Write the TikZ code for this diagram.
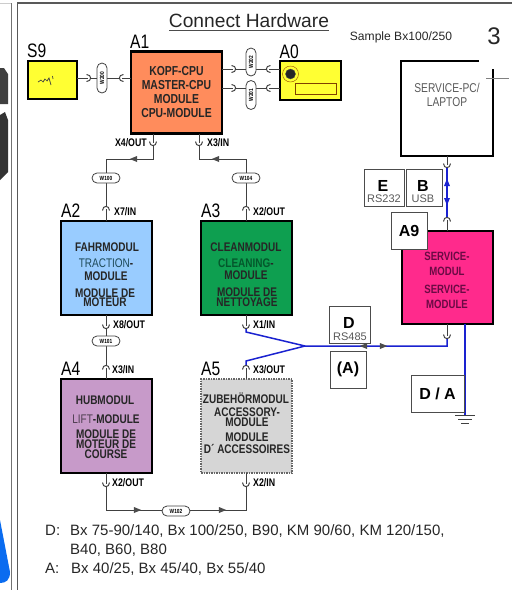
\documentclass[tikz,border=0pt]{standalone}
\usepackage{fontspec}
\setmainfont{Liberation Sans}
\newfontfamily\narrowfont[FakeStretch=0.8]{Liberation Sans}
\usetikzlibrary{shapes, arrows, positioning}

\definecolor{cpucol}{HTML}{FF8C5C}
\definecolor{tractioncol}{HTML}{99CCFF}
\definecolor{cleancol}{HTML}{0E9F50}
\definecolor{liftcol}{HTML}{C79AC9}
\definecolor{zubcol}{HTML}{D6D6D6}
\definecolor{servicecol}{HTML}{FF2A8C}
\definecolor{signcol}{HTML}{FFFF33}
\definecolor{buscol}{HTML}{1A22D0}
\definecolor{servicetext}{HTML}{6A0A44}
\definecolor{tractiontext}{HTML}{1E4A58}
\definecolor{cleantext}{HTML}{04582C}
\definecolor{lifttext}{HTML}{4E3E50}
\definecolor{edgeblue}{HTML}{0A6CF0}

\tikzset{
	module/.style={draw, line width=2.6pt, minimum width=91pt, minimum height=94pt, outer sep=0pt},
	tag/.style={draw=black!70, fill=white, line width=.8pt, inner sep=0pt, outer sep=0pt, align=center},
	title/.style={font=\narrowfont\fontsize{19.5}{19.5}\selectfont, inner sep=0pt},
	port/.style={font=\narrowfont\bfseries\fontsize{11}{11}\selectfont, inner sep=0pt},
	modtext/.style={font=\narrowfont\bfseries\fontsize{12.5}{9.5}\selectfont, align=center, inner sep=0pt, text=black!85},
	wire/.style={draw=black!75, line width=1pt},
	buswire/.style={draw=buscol, line width=1.5pt},
	cable/.style={draw=black!75, fill=white, line width=.8pt, rounded corners=5pt, inner sep=0pt,
		font=\narrowfont\bfseries\fontsize{6}{6}\selectfont},
	midtip/.style={fill=black!70, inner sep=0pt, isosceles triangle, isosceles triangle apex angle=45, minimum size=6pt},
	big/.style={font=\fontsize{16}{16}\selectfont\bfseries, inner sep=0pt},
	small/.style={font=\fontsize{11}{11}\selectfont, text=black!65, inner sep=0pt},
	note/.style={font=\fontsize{15}{15}\selectfont, inner sep=0pt, anchor=base west, text=black!85}
}
\newcommand{\plug}[2]{\draw[wire, shift={(#1)}, rotate=#2] (-3.5,-1.5) .. controls (-3.5,4) and (3.5,4) .. (3.5,-1.5);}

\begin{document}
\begin{tikzpicture}[x=1pt, y=-1pt, node distance=140pt, on grid]
	\useasboundingbox (0,0) rectangle (512,590);
	% screen frame
	\fill[black!75] (0,68) -- (4,68) -- (8,74) -- (8,104) -- (0,104) -- cycle;
	\fill[black!80] (0,115) -- (5,112) -- (8,120) -- (8,172) -- (0,180) -- cycle;
	\fill[edgeblue] (0,520) -- (10,572) .. controls (10,580) and (6,583) .. (0,583) -- cycle;
	\draw[black!20, line width=.8pt] (0,3) -- (11.5,3);
	\draw[black!55, line width=1.4pt] (11.5,3) -- (11.5,590);
	\draw[black!65, line width=1.4pt] (17.5,590) -- (17.5,3) -- (512,3);

	% modules
	\node[module, fill=tractioncol] (a2) at (106.5,268) {};
	\node[module, fill=cleancol, right of=a2] (a3) {};
	\node[module, fill=liftcol, below=158pt of a2] (a4) {};
	\node[module, fill=zubcol, draw=black!60, dash pattern=on 1.5pt off 1pt, below=158pt of a3] (a5) {};
	\node[module, fill=cpucol, minimum height=82pt] (a1) at (176.5,92.5) {};
	\node[module, fill=servicecol, minimum height=93pt] (a9) at (447.5,277.5) {};
	\node[draw, fill=signcol, line width=2pt, minimum width=49pt, minimum height=38pt, outer sep=0pt] (s9) at (52.5,80) {};
	\node[draw, fill=signcol, line width=2pt, minimum width=61pt, minimum height=39pt, outer sep=0pt] (a0) at (310,80) {};
	\node[draw=black!70, fill=black!85, circle, minimum size=10pt, inner sep=0pt] (led) at (290.5,74) {};
	\draw[orange!60!black] (led) circle (8);
	\node[draw=orange!50!black, fill=signcol, minimum width=41pt, minimum height=11pt, inner sep=0pt] (lcd) at (315.5,88.5) {};
	\draw[black!75, line width=.7pt] (38,82) -- (41,80) -- (43,82) -- (45,79) -- (47,81) -- (49,78) -- (51,85);
	\draw[black!75, line width=.7pt] (52.5,76) -- (53,79);

	% laptop
	\coordinate (ltl) at (401,61);
	\coordinate (ltr) at (479,61);
	\coordinate (lrt) at (493,69);
	\coordinate (lrb) at (493,156);
	\draw[black, line width=2.2pt] (ltr) -- (ltl) |- (lrb) -- (lrt);
	\coordinate (cl) at (486,78);
	\coordinate (cr) at (509,78);
	\draw[black!50, line width=.8pt] (cl) -- (cr);
	\node[font=\narrowfont\fontsize{12.8}{14}\selectfont, align=center, text=black!65] (lt) at (447,95) {SERVICE-PC/\\LAPTOP};

	% module texts
	\node[modtext, font=\narrowfont\bfseries\fontsize{13}{14}\selectfont] (t1) at (176.5,92) {KOPF-CPU\\MASTER-CPU\\MODULE\\CPU-MODULE};
	\node[modtext] (t2a) at (107,247) {FAHRMODUL};
	\node[modtext, font=\narrowfont\fontsize{12.5}{13}\selectfont] (t2b) at (106,269.5) {\textcolor{tractiontext}{TRACTION}\textbf{-}\\\textbf{MODULE}};
	\node[modtext] (t2c) at (105,297.5) {MODULE DE\\MOTEUR};
	\node[modtext] (t3a) at (246,247) {CLEANMODUL};
	\node[modtext, font=\narrowfont\bfseries\fontsize{12.5}{12}\selectfont] (t3b) at (246,269) {\textcolor{cleantext}{CLEANING}-\\MODULE};
	\node[modtext] (t3c) at (247,297) {MODULE DE\\NETTOYAGE};
	\node[modtext] (t4a) at (105,400) {HUBMODUL};
	\node[modtext] (t4b) at (106,419) {\textcolor{lifttext}{\mdseries LIFT}-MODULE};
	\node[modtext, font=\narrowfont\bfseries\fontsize{12.5}{10}\selectfont] (t4c) at (106,444) {MODULE DE\\MOTEUR DE\\COURSE};
	\node[modtext] (t5a) at (246,398) {ZUBEHÖRMODUL};
	\node[modtext, font=\narrowfont\bfseries\fontsize{12.5}{10}\selectfont] (t5b) at (247,417) {ACCESSORY-\\MODULE};
	\node[modtext, font=\narrowfont\bfseries\fontsize{12.5}{12}\selectfont] (t5c) at (247,443) {MODULE\\D´ ACCESSOIRES};
	\node[modtext, text=servicetext, font=\narrowfont\bfseries\fontsize{12}{15}\selectfont] (t9a) at (447,264) {SERVICE-\\MODUL};
	\node[modtext, text=servicetext, font=\narrowfont\bfseries\fontsize{12}{15}\selectfont] (t9b) at (447,297) {SERVICE-\\MODULE};

	% titles
	\node[title, above right=3pt and -1pt of a1.north west, anchor=south west] (la1) {A1};
	\node[title, above right=3pt and -1pt of s9.north west, anchor=south west] (ls9) {S9};
	\node[title, above right=2pt and 0pt of a0.north west, anchor=south west] (la0) {A0};
	\node[title, above right=3pt and 0pt of a2.north west, anchor=south west] (la2) {A2};
	\node[title, above right=3pt and 0pt of a3.north west, anchor=south west] (la3) {A3};
	\node[title, above right=3pt and 0pt of a4.north west, anchor=south west] (la4) {A4};
	\node[title, above right=3pt and 0pt of a5.north west, anchor=south west] (la5) {A5};

	% ports
	\coordinate (x4) at (153,143);
	\coordinate (x3) at (199,143);
	\coordinate (x7) at (106,209);
	\coordinate (x2) at (246,209);
	\coordinate (x8) at (106,326);
	\coordinate (x1) at (246,326);
	\coordinate (x3b) at (106,368);
	\coordinate (x3c) at (246,368);
	\coordinate (x2b) at (106,484);
	\coordinate (x2c) at (246,484);
	\coordinate (ws) at (88,78);
	\coordinate (wa) at (122,78);
	\coordinate (wg) at (233,69);
	\coordinate (wh) at (233,88);
	\coordinate (wb) at (269,69);
	\coordinate (wc) at (269,88);
	\coordinate (wd) at (447,165);
	\coordinate (we) at (447,220);
	\coordinate (wf) at (447,336);
	\plug{x4}{0} \plug{x3}{0} \plug{x8}{0} \plug{x1}{0} \plug{x2b}{0} \plug{x2c}{0}
	\plug{x7}{180} \plug{x2}{180} \plug{x3b}{180} \plug{x3c}{180}
	\plug{ws}{90} \plug{wa}{-90} \plug{wg}{90} \plug{wh}{90} \plug{wb}{-90} \plug{wc}{-90}
	\plug{wd}{0} \plug{we}{180} \plug{wf}{0}
	\node[port, anchor=east] (lx4) at (147,143) {X4/OUT};
	\node[port, anchor=west] (lx3) at (207,143) {X3/IN};
	\node[port, anchor=west] (lx7) at (114,212) {X7/IN};
	\node[port, anchor=west] (lx2) at (253,212) {X2/OUT};
	\node[port, anchor=west] (lx8) at (113,325) {X8/OUT};
	\node[port, anchor=west] (lx1) at (253,325) {X1/IN};
	\node[port, anchor=west] (lx3b) at (112,370) {X3/IN};
	\node[port, anchor=west] (lx3c) at (253,370) {X3/OUT};
	\node[port, anchor=west] (lx2b) at (112,483) {X2/OUT};
	\node[port, anchor=west] (lx2c) at (253,483) {X2/IN};

	% cables
	\draw[wire] (s9.east |- ws) -- (ws);
	\draw[wire] (a1.west |- wa) -- (wa);
	\draw[wire] (a1.east |- wg) -- (wg);
	\draw[wire] (a1.east |- wh) -- (wh);
	\draw[wire] (a0.west |- wb) -- (wb);
	\draw[wire] (a0.west |- wc) -- (wc);
	\draw[wire] ([xshift=3pt]ws) -- ([xshift=-3pt]wa);
	\draw[wire] ([xshift=3pt]wg) -- ([xshift=-3pt]wb);
	\draw[wire] ([xshift=3pt]wh) -- ([xshift=-3pt]wc);
	\draw[wire] (a1.south -| x4) -- (x4);
	\draw[wire] (a1.south -| x3) -- (x3);
	\draw[wire] ([yshift=-3pt]x4) |- (x7 |- 0,159) -- ([yshift=3pt]x7);
	\draw[wire] ([yshift=-3pt]x3) |- (x2 |- 0,159) -- ([yshift=3pt]x2);
	\draw[wire] (a2.north -| x7) -- (x7);
	\draw[wire] (a3.north -| x2) -- (x2);
	\draw[wire] (a2.south -| x8) -- (x8);
	\draw[wire] (a3.south -| x1) -- (x1);
	\draw[wire] ([yshift=-3pt]x8) -- ([yshift=3pt]x3b);
	\draw[wire] (a4.north -| x3b) -- (x3b);
	\draw[wire] (a5.north -| x3c) -- (x3c);
	\draw[wire] (a4.south -| x2b) -- (x2b);
	\draw[wire] (a5.south -| x2c) -- (x2c);
	\coordinate (low1) at (106,510);
	\coordinate (low2) at (246,510);
	\draw[wire] ([yshift=-3pt]x2b) -- (low1) -- (low2) -- ([yshift=-3pt]x2c);
	\node[midtip, rotate=180] (ar3) at (135,159) {};
	\node[midtip, rotate=180] (ar4) at (217,159) {};
	\node[midtip] (ar5) at (136,510) {};
	\node[midtip] (ar6) at (221,510) {};
	\node[cable, minimum width=10pt, minimum height=30pt] (w200) at (102,78) {\rotatebox{90}{W200}};
	\node[cable, minimum width=10pt, minimum height=28pt] (w202) at (251,62) {\rotatebox{90}{W202}};
	\node[cable, minimum width=10pt, minimum height=29pt] (w201) at (251,95) {\rotatebox{90}{W201}};
	\node[cable, minimum width=28pt, minimum height=10pt] (w100) at (106,178) {W100};
	\node[cable, minimum width=28pt, minimum height=10pt] (w104) at (246,178) {W104};
	\node[cable, minimum width=28pt, minimum height=10pt] (w101) at (106,341) {W101};
	\node[cable, minimum width=28pt, minimum height=10pt] (w102) at (176,511) {W102};

	% service line
	\coordinate (join) at (305,346);
	\coordinate (hook) at (447,346);
	\coordinate (gnd) at (465,415);
	\draw[buswire] ([yshift=-3pt]x1) -- ++(0,3) -- (join) -- (hook) -- ([yshift=-3pt]wf);
	\draw[buswire] ([yshift=3pt]x3c) -- ++(0,-4) -- (join);
	\draw[wire] (a9.south -| wf) -- (wf);
	\draw[wire] (lrb -| wd) -- (wd);
	\draw[wire] (a9.north -| we) -- (we);
	\draw[buswire] ([yshift=3pt]we) -- ([yshift=-3pt]wd);
	\draw[buswire] (a9.south -| gnd) -- (gnd);
	\draw[black!75, line width=1pt] ([xshift=-10pt]gnd) -- ([xshift=10pt]gnd);
	\draw[black!75, line width=1pt] ([xshift=-7pt,yshift=-4pt]gnd) -- ([xshift=7pt,yshift=-4pt]gnd);
	\draw[black!75, line width=1pt] ([xshift=-4pt,yshift=-8pt]gnd) -- ([xshift=4pt,yshift=-8pt]gnd);
	\node[midtip, rotate=180] (ar1) at (365,346) {};
	\node[midtip] (ar2) at (382,346) {};
	\node[midtip, fill=buscol, rotate=90] (ar7) at (447,184) {};
	\node[midtip, fill=buscol, rotate=-90] (ar8) at (447,200) {};

	% boxes
	\node[tag, minimum width=40pt, minimum height=37pt] (e) at (384,187.5) {};
	\node[tag, minimum width=36pt, minimum height=37pt] (b) at (424,187.5) {};
	\node[tag, minimum width=36pt, minimum height=37pt] (ta9) at (409,230.5) {\fontsize{16}{16}\selectfont\bfseries A9};
	\node[tag, minimum width=41pt, minimum height=37pt] (d) at (349.5,324.5) {};
	\node[tag, minimum width=36pt, minimum height=37pt] (ta) at (348,369.5) {\fontsize{16}{16}\selectfont\bfseries (A)};
	\node[tag, minimum width=53pt, minimum height=37pt] (da) at (437.5,393.5) {\fontsize{16}{16}\selectfont\bfseries D / A};
	\node[big] (le) at (383,186) {E};
	\node[small] (les) at (384,199) {RS232};
	\node[big] (lb) at (423,186) {B};
	\node[small] (lbs) at (423,199) {USB};
	\node[big] (ld) at (349,323) {D};
	\node[small] (lds) at (350,337) {RS485};

	% header and notes
	\node[font=\fontsize{19.2}{19.2}\selectfont, inner sep=0pt, text=black!85] (head) at (249,21) {Connect Hardware};
	\coordinate (hl) at (169,30);
	\coordinate (hr) at (329,30);
	\draw[black!70, line width=.9pt] (hl) -- (hr);
	\node[font=\fontsize{12.1}{12.1}\selectfont, inner sep=0pt, text=black!85] (sample) at (401,37) {Sample Bx100/250};
	\node[font=\fontsize{24}{24}\selectfont, inner sep=0pt, text=black!85] (page) at (494,36) {3};
	\node[note] (nd) at (45,535) {D:};
	\node[note] (nd1) at (70,535) {Bx 75-90/140, Bx 100/250, B90, KM 90/60, KM 120/150,};
	\node[note] (nd2) at (70,554) {B40, B60, B80};
	\node[note] (na) at (45,573) {A:};
	\node[note] (na1) at (71,573) {Bx 40/25, Bx 45/40, Bx 55/40};
\end{tikzpicture}
\end{document}
